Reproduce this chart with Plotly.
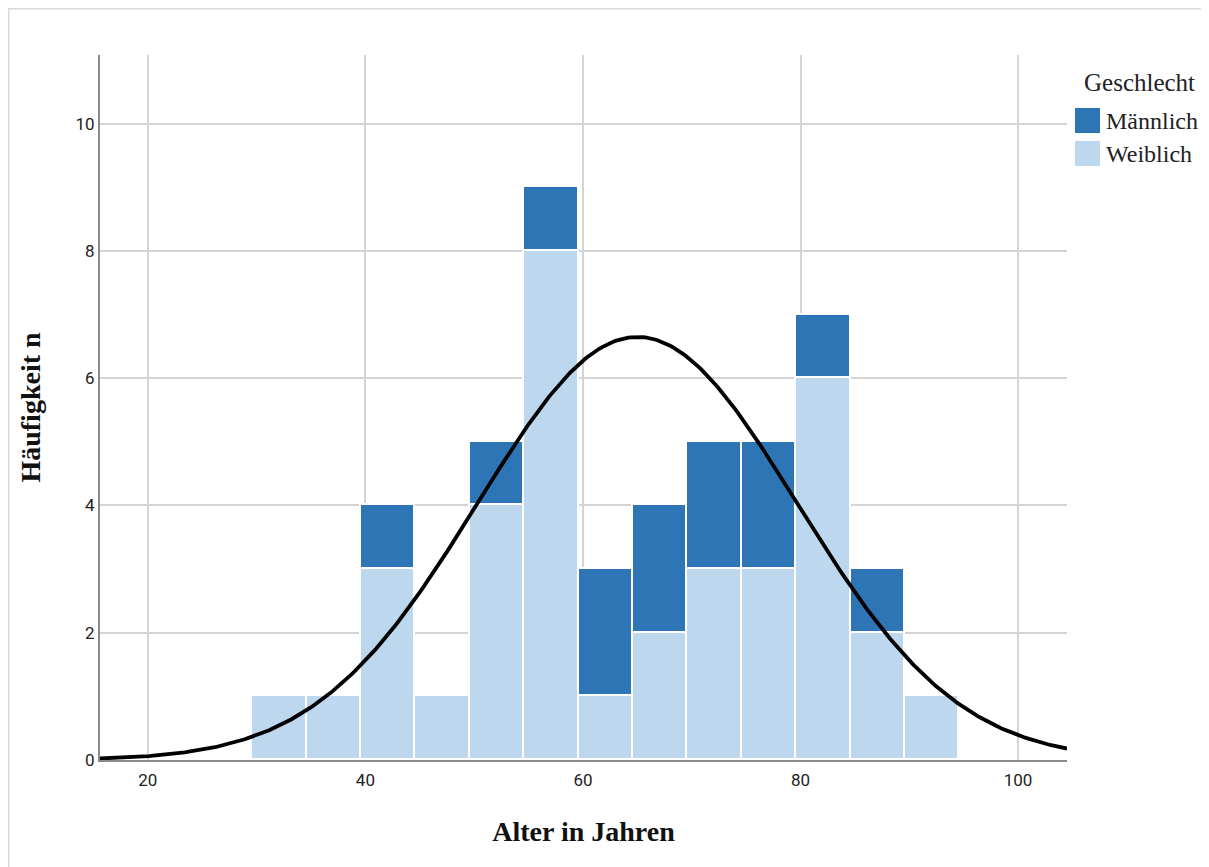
import numpy as np
import plotly.graph_objects as go

# Data (bins of width 5 years)
bin_starts = [29.6, 34.6, 39.6, 44.6, 49.6, 54.6, 59.6, 64.6, 69.6, 74.6, 79.6, 84.6, 89.6]
weiblich = [1, 1, 3, 1, 4, 8, 1, 2, 3, 3, 6, 2, 1]
maennlich = [0, 0, 1, 0, 1, 1, 2, 2, 2, 2, 1, 1, 0]
bin_width = 5
# Normal curve parameters
curve_mean = 65.0
curve_sd = 14.7

x_ticks = [20, 40, 60, 80, 100]
y_ticks = [0, 2, 4, 6, 8, 10]

legend_title = "Geschlecht"
legend_labels = ["Männlich", "Weiblich"]
col_m = "#2e75b6"
col_w = "#bdd7ee"

n_total = sum(weiblich) + sum(maennlich)
centers = [b + bin_width / 2 for b in bin_starts]

fig = go.Figure()
fig.add_trace(go.Bar(
    x=centers, y=weiblich, width=bin_width, name="Weiblich",
    marker=dict(color=col_w, line=dict(color="white", width=1.6)),
))
fig.add_trace(go.Bar(
    x=centers, y=maennlich, width=bin_width, name="Männlich",
    marker=dict(color=col_m, line=dict(color="white", width=1.6)),
))

xs = np.linspace(15.6, 104.5, 400)
ys = n_total * bin_width / (curve_sd * np.sqrt(2 * np.pi)) * np.exp(-0.5 * ((xs - curve_mean) / curve_sd) ** 2)
fig.add_trace(go.Scatter(x=xs, y=ys, mode="lines", line=dict(color="black", width=3.8),
                         showlegend=False, hoverinfo="skip"))

# plot area in page pixels: x 100..1067, y 55..760
def px(xp):
    return (xp - 100) / 967.0

def py(yp):
    return (760 - yp) / 705.0

shapes = [dict(type="rect", xref="paper", yref="paper",
               x0=px(8.5), x1=px(1230), y0=py(890), y1=py(8.5),
               line=dict(color="#d9d9d9", width=2), layer="below")]
annotations = [dict(text=legend_title, xref="paper", yref="paper", x=px(1139), y=py(82),
                    xanchor="center", yanchor="middle", showarrow=False,
                    font=dict(family="Liberation Serif", size=25, color="#222"))]
for i, (lab, col) in enumerate(zip(legend_labels, [col_m, col_w])):
    top = 108 + i * 33
    shapes.append(dict(type="rect", xref="paper", yref="paper",
                       x0=px(1075), x1=px(1100), y0=py(top + 25), y1=py(top),
                       fillcolor=col, line=dict(width=0)))
    annotations.append(dict(text=lab, xref="paper", yref="paper", x=px(1104), y=py(top + 13),
                            xanchor="left", yanchor="middle", showarrow=False,
                            font=dict(family="Liberation Serif", size=24, color="#222")))

fig.update_layout(
    width=1209, height=867,
    margin=dict(l=92, r=150, t=47, b=115),
    paper_bgcolor="white", plot_bgcolor="white",
    barmode="stack", bargap=0, showlegend=False,
    shapes=shapes, annotations=annotations,
)

fig.update_xaxes(
    range=[15.6, 104.5], tickvals=x_ticks,
    showgrid=True, gridcolor="#d4d4d4", gridwidth=2,
    showline=True, linecolor="#8a8a8a", linewidth=2,
    ticks="", zeroline=False, ticklabelstandoff=4,
    tickfont=dict(family="Roboto", size=17, color="#222"),
    title=dict(text="<b>Alter in Jahren</b>", font=dict(family="Liberation Serif", size=28, color="#111"), standoff=32),
)
fig.update_yaxes(
    range=[0, 11.08], tickvals=y_ticks,
    showgrid=True, gridcolor="#d4d4d4", gridwidth=2,
    showline=True, linecolor="#8a8a8a", linewidth=2,
    ticks="", zeroline=False,
    tickfont=dict(family="Roboto", size=17, color="#222"),
    title=dict(text="<b>Häufigkeit n</b>", font=dict(family="Liberation Serif", size=28, color="#111"), standoff=27),
)

fig.write_html("out.html")
